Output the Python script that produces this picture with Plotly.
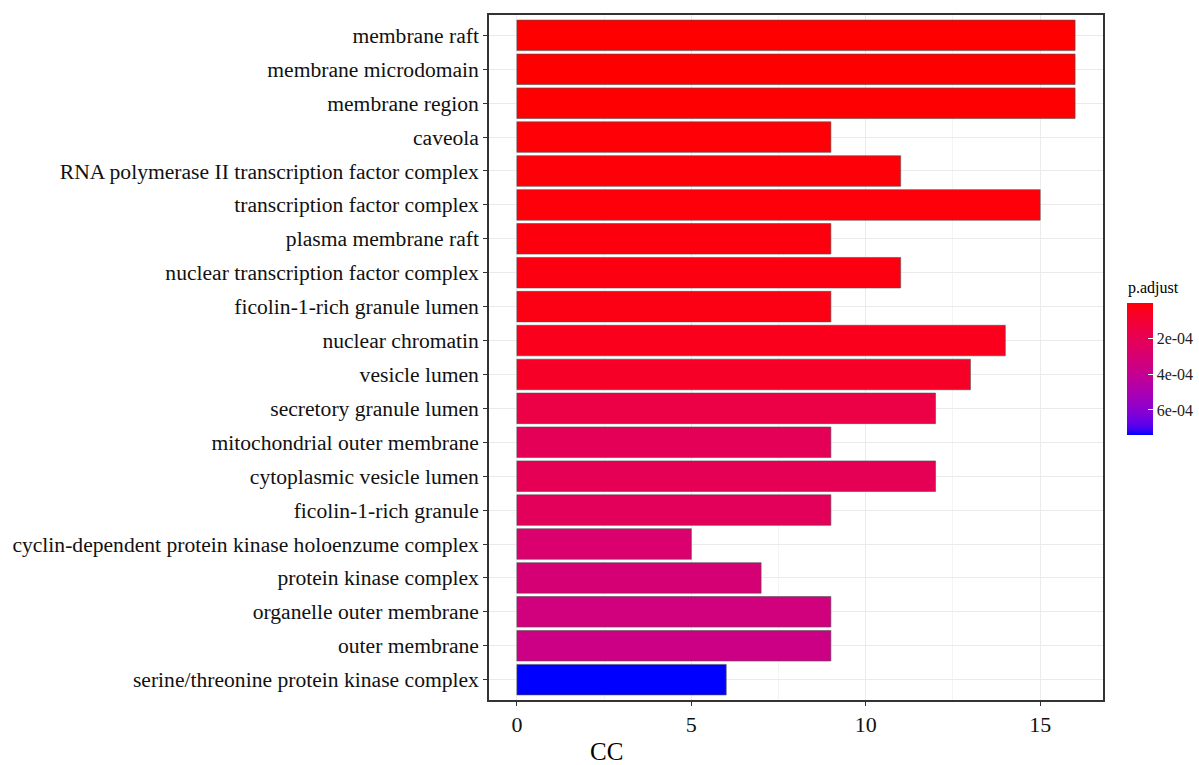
import plotly.graph_objects as go
import numpy as np

terms = [
    "membrane raft",
    "membrane microdomain",
    "membrane region",
    "caveola",
    "RNA polymerase II transcription factor complex",
    "transcription factor complex",
    "plasma membrane raft",
    "nuclear transcription factor complex",
    "ficolin-1-rich granule lumen",
    "nuclear chromatin",
    "vesicle lumen",
    "secretory granule lumen",
    "mitochondrial outer membrane",
    "cytoplasmic vesicle lumen",
    "ficolin-1-rich granule",
    "cyclin-dependent protein kinase holoenzume complex",
    "protein kinase complex",
    "organelle outer membrane",
    "outer membrane",
    "serine/threonine protein kinase complex",
]
counts = [16, 16, 16, 9, 11, 15, 9, 11, 9, 14, 13, 12, 9, 12, 9, 5, 7, 9, 9, 6]
p_adjust = [1.0e-6, 3.0e-6, 4.0e-6, 8.0e-6, 1.2e-5, 1.5e-5, 2.0e-5, 2.5e-5, 3.0e-5, 4.4e-5,
            6.7e-5, 1.55e-4, 2.1e-4, 2.05e-4, 2.2e-4, 2.8e-4, 3.05e-4, 3.35e-4, 3.6e-4, 7.4e-4]

cb_tickvals = [2e-4, 4e-4, 6e-4]
cb_ticktext = ["2e-04", "4e-04", "6e-04"]


# ggplot-like Lab interpolation red -> blue
def srgb_to_lab(rgb):
    c = np.array(rgb) / 255.0
    c = np.where(c > 0.04045, ((c + 0.055) / 1.055) ** 2.4, c / 12.92)
    M = np.array([[0.4124, 0.3576, 0.1805], [0.2126, 0.7152, 0.0722], [0.0193, 0.1192, 0.9505]])
    xyz = M @ c
    xyz = xyz / np.array([0.95047, 1.0, 1.08883])
    f = np.where(xyz > 0.008856, np.cbrt(xyz), 7.787 * xyz + 16 / 116)
    return np.array([116 * f[1] - 16, 500 * (f[0] - f[1]), 200 * (f[1] - f[2])])


def lab_to_srgb(lab):
    L, a, b = lab
    fy = (L + 16) / 116
    fx = fy + a / 500
    fz = fy - b / 200
    f = np.array([fx, fy, fz])
    xyz = np.where(f ** 3 > 0.008856, f ** 3, (f - 16 / 116) / 7.787)
    xyz = xyz * np.array([0.95047, 1.0, 1.08883])
    Minv = np.array([[3.2406, -1.5372, -0.4986], [-0.9689, 1.8758, 0.0415], [0.0557, -0.2040, 1.0570]])
    c = Minv @ xyz
    c = np.where(c > 0.0031308, 1.055 * np.clip(c, 0, None) ** (1 / 2.4) - 0.055, 12.92 * c)
    c = np.clip(c, 0, 1)
    return "rgb({},{},{})".format(*[int(round(v * 255)) for v in c])


lab_red = srgb_to_lab([255, 0, 0])
lab_blue = srgb_to_lab([0, 0, 255])
# colour is driven by -p.adjust so the colourbar shows small values (red) on top
colorscale = [[t, lab_to_srgb(lab_blue + (lab_red - lab_blue) * t)] for t in np.linspace(0, 1, 21)]
neg_p = [-v for v in p_adjust]

font_family = "Liberation Serif, Times New Roman, serif"

L, R, T, B = 489, 96, 15, 65
W, H = 1199, 765
pw = W - L - R
ph = H - T - B


def px_x(x):
    return (x - L) / pw


def px_y(y):
    return (H - B - y) / ph


fig = go.Figure(
    go.Bar(
        x=counts,
        y=terms,
        orientation="h",
        width=0.9,
        marker=dict(
            color=neg_p,
            colorscale=colorscale,
            cmin=-max(p_adjust),
            cmax=-min(p_adjust),
            line=dict(color="#505050", width=0.6),
            colorbar=dict(
                tickvals=[-v for v in cb_tickvals],
                ticktext=cb_ticktext,
                tickfont=dict(size=16, color="#222"),
                ticks="inside",
                tickcolor="white",
                ticklen=5,
                tickwidth=1,
                thickness=26,
                thicknessmode="pixels",
                len=132,
                lenmode="pixels",
                x=px_x(1127),
                xanchor="left",
                y=px_y(369),
                yanchor="middle",
                outlinewidth=0,
                xpad=0,
                ypad=0,
            ),
        ),
        showlegend=False,
    )
)

fig.update_layout(
    width=W,
    height=H,
    margin=dict(l=L, r=R, t=T, b=B, autoexpand=False),
    paper_bgcolor="white",
    plot_bgcolor="white",
    font=dict(family=font_family, color="#000"),
    xaxis=dict(
        range=[-0.8, 16.8],
        tickvals=[0, 5, 10, 15],
        ticks="outside",
        ticklen=4,
        tickcolor="#333333",
        tickfont=dict(size=22, color="#111"),
        showgrid=True,
        gridcolor="#EBEBEB",
        gridwidth=1,
        minor=dict(tickvals=[2.5, 7.5, 12.5], showgrid=True, gridcolor="#F4F4F4", gridwidth=0.5),
        zeroline=False,
        showline=True,
        linecolor="#333333",
        linewidth=1.5,
        mirror=True,
    ),
    yaxis=dict(
        categoryorder="array",
        categoryarray=terms[::-1],
        range=[-0.6, 19.6],
        ticks="outside",
        ticklen=4,
        tickcolor="#333333",
        tickfont=dict(size=21.6, color="#111"),
        showgrid=True,
        gridcolor="#EBEBEB",
        gridwidth=1,
        zeroline=False,
        showline=True,
        linecolor="#333333",
        linewidth=1.5,
        mirror=True,
    ),
    annotations=[
        dict(
            text="CC",
            x=px_x(606),
            y=px_y(751),
            xref="paper",
            yref="paper",
            xanchor="center",
            yanchor="middle",
            showarrow=False,
            font=dict(size=25, color="#000"),
        ),
        dict(
            text="p.adjust",
            x=px_x(1126),
            y=px_y(288),
            xref="paper",
            yref="paper",
            xanchor="left",
            yanchor="middle",
            showarrow=False,
            font=dict(size=16, color="#000"),
        ),
    ],
)

fig.write_html("out.html")
